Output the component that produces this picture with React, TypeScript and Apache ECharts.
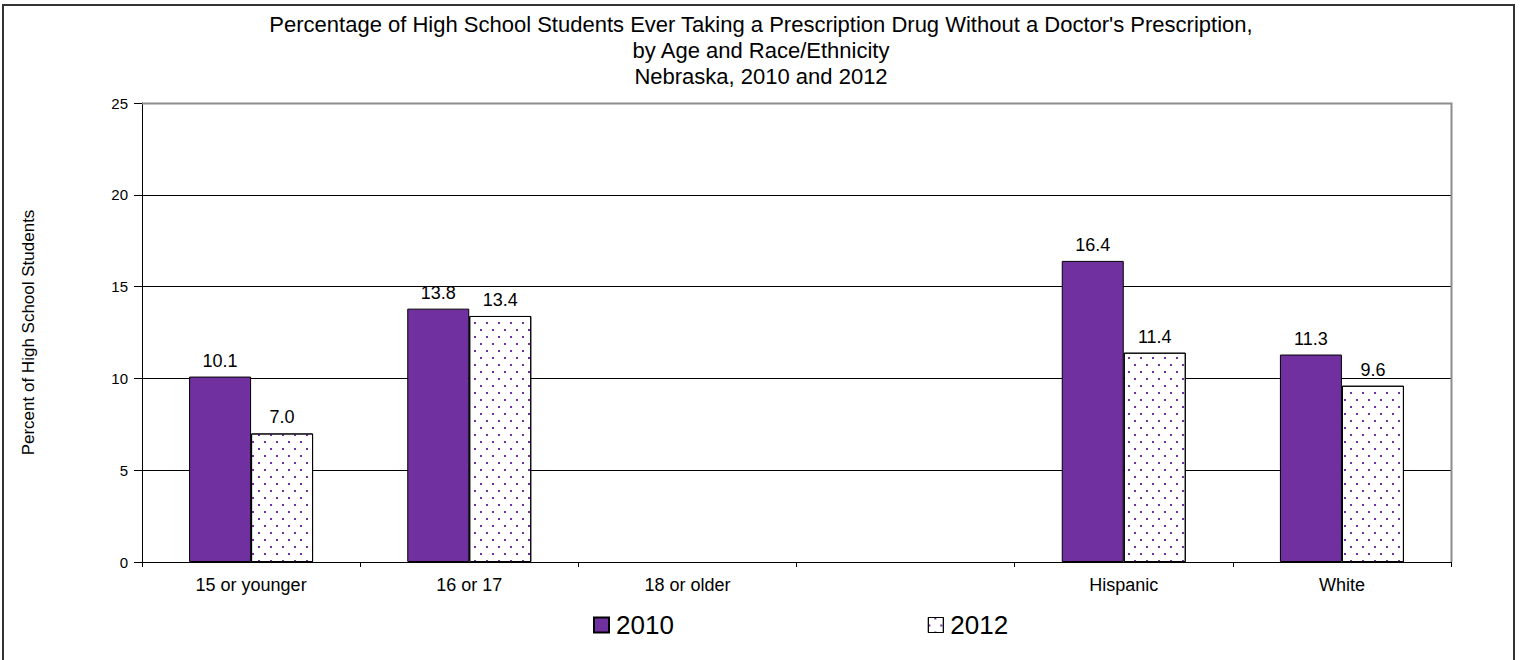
import React, { useEffect, useRef } from "react";
import * as echarts from "echarts";

const categories = ["15 or younger", "16 or 17", "18 or older", "", "Hispanic", "White"];
const values2010 = [10.1, 13.8, null, null, 16.4, 11.3];
const values2012 = [7.0, 13.4, null, null, 11.4, 9.6];
const seriesNames = ["2010", "2012"];
const yTicks = { min: 0, max: 25, interval: 5 };
const titleText =
  "Percentage of High School Students Ever Taking a Prescription Drug Without a Doctor's Prescription,\nby Age and Race/Ethnicity\nNebraska, 2010 and 2012";
const yName = "Percent of High School Students";

const FONT = 'Arial, "Liberation Sans", sans-serif';
const PURPLE = "#7030A0";

const dotDecal = {
  symbol: "rect",
  symbolSize: 1,
  color: PURPLE,
  backgroundColor: null,
  dashArrayX: [
    [2, 10],
    [0, 6, 2, 4],
  ],
  dashArrayY: [2, 5],
  rotation: 0,
};

export default function App() {
  const ref = useRef<HTMLDivElement>(null);
  useEffect(() => {
    document.body.style.margin = "0";
    const chart = echarts.init(ref.current!, null, { renderer: "svg" });
    const plotLeft = 142;
    const plotRight = 1451;
    const plotTop = 103;
    const plotBottom = 562;
    const label = {
      show: true,
      position: "top",
      distance: 7,
      color: "#000",
      fontSize: 18,
      fontFamily: FONT,
      formatter: (p: any) => (p.value == null ? "" : Number(p.value).toFixed(1)),
    };
    chart.setOption({
      animation: false,
      backgroundColor: "#fff",
      textStyle: { fontFamily: FONT },
      title: {
        text: titleText,
        left: "center",
        top: 6,
        textStyle: { fontSize: 22, fontWeight: "normal", color: "#000", lineHeight: 26, fontFamily: FONT },
      },
      legend: {
        data: [
          { name: seriesNames[0] },
          { name: seriesNames[1], itemStyle: { color: "#fff", borderColor: "#000", borderWidth: 1, decal: dotDecal } },
        ],
        left: 588,
        top: 605,
        itemWidth: 15,
        itemHeight: 15,
        itemGap: 254,
        icon: "rect",
        textStyle: { fontSize: 26, color: "#000", fontFamily: FONT, lineHeight: 30, padding: [0, 0, 0, 2] },
      },
      grid: {
        left: plotLeft,
        right: 1522 - plotRight,
        top: plotTop,
        bottom: 660 - plotBottom,
        containLabel: false,
      },
      xAxis: {
        type: "category",
        data: categories,
        axisLine: { show: true, lineStyle: { color: "#000", width: 1 } },
        axisTick: { show: true, length: 5, interval: 0, lineStyle: { color: "#000" } },
        axisLabel: { interval: 0, fontSize: 18, color: "#000", margin: 14, fontFamily: FONT },
        splitLine: { show: false },
      },
      yAxis: {
        type: "value",
        min: yTicks.min,
        max: yTicks.max,
        interval: yTicks.interval,
        name: yName,
        nameLocation: "middle",
        nameGap: 105,
        nameTextStyle: { fontSize: 17, color: "#000", fontFamily: FONT },
        axisLine: { show: true, lineStyle: { color: "#000", width: 1 } },
        axisTick: { show: true, length: 8, lineStyle: { color: "#000" } },
        axisLabel: { fontSize: 15, color: "#000", margin: 14, fontFamily: FONT },
        splitLine: { show: true, lineStyle: { color: "#000", width: 1 } },
      },
      series: [
        {
          name: seriesNames[0],
          type: "bar",
          data: values2010,
          barWidth: 62,
          barGap: "0%",
          itemStyle: { color: PURPLE, borderColor: "#000", borderWidth: 1 },
          label,
        },
        {
          name: seriesNames[1],
          type: "bar",
          data: values2012,
          barWidth: 62,
          barGap: "0%",
          itemStyle: {
            color: "#fff",
            borderColor: "#000",
            borderWidth: 1,
            decal: dotDecal,
          },
          label,
        },
      ],
      graphic: [
        {
          type: "polyline",
          z: 100,
          silent: true,
          shape: {
            points: [
              [plotLeft, plotTop + 0.5],
              [plotRight + 0.5, plotTop + 0.5],
              [plotRight + 0.5, plotBottom],
            ],
          },
          style: { stroke: "#8c8c8c", lineWidth: 2, fill: null },
        },
        {
          type: "rect",
          z: 100,
          silent: true,
          shape: { x: 3, y: 5, width: 1511, height: 700 },
          style: { stroke: "#333", lineWidth: 2, fill: null },
        },
      ],
    });
    return () => chart.dispose();
  }, []);
  return <div ref={ref} style={{ width: 1522, height: 660 }} />;
}
